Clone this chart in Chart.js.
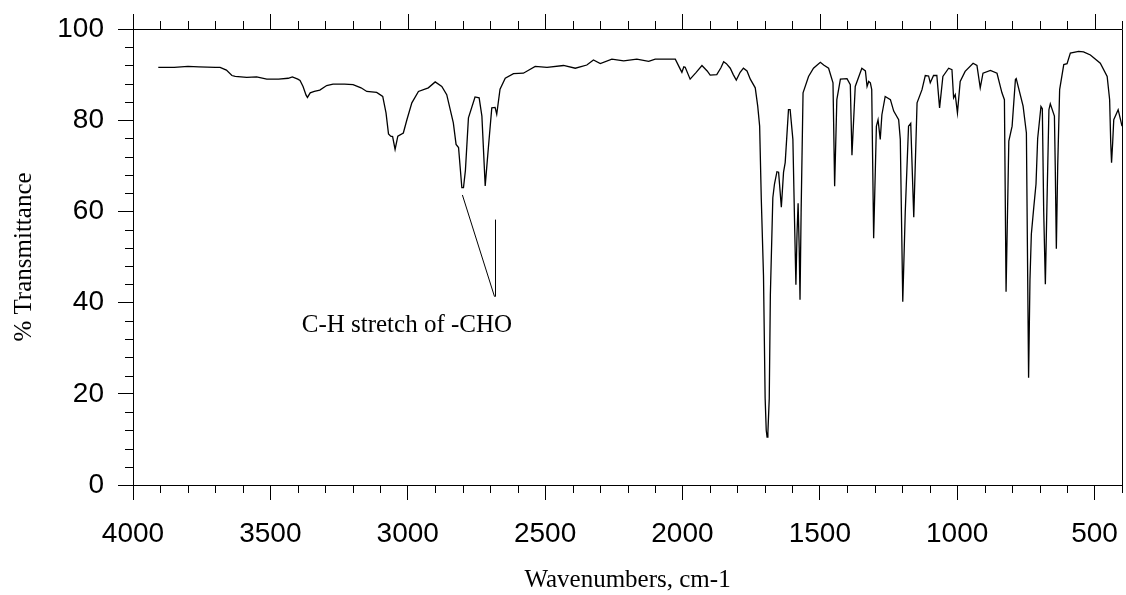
<!DOCTYPE html>
<html>
<head>
  <title>IR spectrum</title>
  <script src="https://cdn.jsdelivr.net/npm/chart.js"></script>
  <style>
    body {
      margin: 0;
      background: #fff;
    }
    .chart-box {
      width: 1126px;
      height: 595px;
    }
  </style>
</head>
<body>

  <div class="chart-box">
    <canvas id="irChart"></canvas>
  </div>

  <script>
    // spectrum (cm-1, % transmittance)
    const wavenumbers = [
      3908, 3850, 3800, 3760, 3700, 3683, 3660, 3640, 3628, 3586, 3550, 3513, 3470, 3435, 3420, 3400,
      3392, 3381, 3370, 3365, 3355, 3340, 3320, 3295, 3272, 3230, 3199, 3170, 3149, 3113, 3091, 3079,
      3070, 3062, 3055, 3046, 3036, 3016, 3003, 2985, 2961, 2925, 2900, 2876, 2858, 2834, 2824, 2815,
      2803, 2797, 2790, 2779, 2755, 2740, 2730, 2718, 2706, 2694, 2682, 2676, 2664, 2645, 2615, 2579,
      2536, 2493, 2433, 2390, 2348, 2324, 2299, 2257, 2214, 2166, 2123, 2099, 2026, 2008, 2002, 1995,
      1990, 1972, 1950, 1929, 1910, 1899, 1875, 1860, 1850, 1840, 1826, 1815, 1804, 1790, 1778, 1765,
      1753, 1735, 1726, 1719, 1713, 1705, 1699, 1695, 1692, 1689, 1684, 1680, 1671, 1665, 1656, 1650,
      1640, 1632, 1626, 1614, 1608, 1598, 1592, 1587, 1583, 1579, 1575, 1572, 1568, 1561, 1541, 1523,
      1498, 1486, 1468, 1452, 1446, 1438, 1425, 1401, 1389, 1383, 1371, 1347, 1334, 1328, 1322, 1316,
      1311, 1304, 1294, 1288, 1280, 1274, 1262, 1243, 1231, 1213, 1207, 1198, 1189, 1177, 1169, 1158,
      1146, 1128, 1116, 1104, 1098, 1086, 1074, 1064, 1052, 1031, 1019, 1013, 1007, 999, 989, 971,
      942, 928, 916, 906, 879, 855, 837, 828, 822, 812, 800, 788, 785, 760, 748, 740,
      735, 730, 721, 713, 707, 695, 690, 685, 679, 672, 666, 661, 646, 643, 639, 634,
      627, 612, 600, 588, 558, 540, 515, 479, 454, 445, 441, 438, 434, 430, 414, 405, 400
    ];
    const transmittance = [
      91.6, 91.6, 91.8, 91.7, 91.6, 91.6, 91.0, 89.8, 89.6, 89.4, 89.5, 89.0, 89.0, 89.2, 89.5, 89.0,
      88.7, 87.4, 85.5, 85.0, 86.0, 86.3, 86.6, 87.6, 87.9, 87.9, 87.8, 87.1, 86.3, 86.1, 85.2, 81.6,
      77.0, 76.5, 76.4, 73.6, 76.5, 77.2, 80.1, 83.8, 86.3, 87.1, 88.4, 87.4, 85.6, 79.4, 74.7, 74.0,
      65.2, 65.2, 69.0, 80.5, 85.1, 84.9, 80.9, 65.6, 74.3, 82.7, 82.8, 81.3, 86.8, 89.2, 90.2, 90.3,
      91.8, 91.6, 92.0, 91.4, 92.1, 93.2, 92.4, 93.4, 93.0, 93.4, 92.9, 93.4, 93.4, 91.2, 90.5, 91.7,
      91.6, 89.0, 90.5, 92.0, 90.8, 89.9, 90.0, 91.5, 92.8, 92.4, 91.4, 90.0, 88.8, 90.5, 91.4, 90.8,
      89.0, 87.1, 83.1, 78.7, 62.7, 46.0, 19.0, 12.0, 10.5, 11.5, 19.0, 41.6, 63.0, 66.0, 68.7, 68.6,
      60.9, 68.6, 70.7, 82.3, 82.3, 75.8, 58.0, 43.9, 55.0, 61.8, 52.0, 40.6, 60.0, 86.0, 89.6, 91.4,
      92.7, 92.1, 91.4, 88.2, 65.5, 84.5, 89.0, 89.1, 87.8, 72.3, 87.4, 91.4, 90.8, 87.4, 88.5, 88.2,
      86.7, 54.1, 78.7, 80.1, 75.8, 81.2, 85.2, 84.5, 82.0, 80.1, 75.8, 40.2, 59.8, 78.7, 79.3, 58.7,
      83.8, 86.7, 89.8, 89.7, 88.2, 89.8, 89.8, 82.7, 89.6, 91.4, 91.1, 84.9, 85.6, 81.6, 88.5, 90.7,
      92.5, 92.0, 87.1, 90.3, 90.9, 90.3, 86.0, 84.5, 42.4, 75.4, 78.7, 88.9, 89.1, 83.1, 77.2, 23.5,
      45.0, 55.0, 61.0, 66.0, 76.0, 83.0, 82.5, 60.0, 44.0, 65.0, 82.3, 83.6, 80.9, 70.0, 51.8, 70.0,
      86.7, 92.2, 92.4, 94.7, 95.1, 95.0, 94.3, 92.5, 89.6, 84.5, 75.0, 70.7, 75.0, 80.1, 82.3, 80.0, 78.7
    ];

    // axis ranges and tick values
    const xRange = [400, 4000];
    const yRange = [0, 100];
    const xTickValues = [4000, 3500, 3000, 2500, 2000, 1500, 1000, 500];
    const yTickValues = [0, 20, 40, 60, 80, 100];
    const xMinorStep = 100;
    const yMinorStep = 4;

    // annotation for the aldehyde C-H peaks
    const noteText = 'C-H stretch of -CHO';
    const notePos = [3003, 33.6];
    const noteDiagonal = [[2801, 63.6], [2684, 41.3]];
    const noteVertical = [[2684, 58.2], [2684, 41.3]];

    const sansFont = "'Liberation Sans', Arial, sans-serif";
    const serifFont = "'Liberation Serif', 'Times New Roman', serif";

    const spectrum = wavenumbers.map((w, i) => ({ x: w, y: transmittance[i] }));

    // frame, minor ticks, top ticks and the annotation
    const extras = {
      id: 'extras',
      afterDraw(chart) {
        const { ctx, chartArea: a, scales: { x, y } } = chart;
        const px = v => Math.round(x.getPixelForValue(v)) + 0.5;
        const py = v => Math.round(y.getPixelForValue(v)) + 0.5;
        ctx.save();
        ctx.strokeStyle = '#000';
        ctx.lineWidth = 1;
        ctx.beginPath();
        ctx.moveTo(a.left, Math.round(a.top) + 0.5);
        ctx.lineTo(Math.round(a.right) + 0.5, Math.round(a.top) + 0.5);
        ctx.lineTo(Math.round(a.right) + 0.5, a.bottom);
        for (let v = xRange[0]; v <= xRange[1]; v += xMinorStep) {
          const major = xTickValues.includes(v);
          ctx.moveTo(px(v), a.top);
          ctx.lineTo(px(v), a.top - (major ? 15 : 8));
          if (!major) {
            ctx.moveTo(px(v), a.bottom);
            ctx.lineTo(px(v), a.bottom + 8);
          }
        }
        for (let v = yRange[0]; v <= yRange[1]; v += yMinorStep) {
          if (yTickValues.includes(v)) continue;
          ctx.moveTo(a.left, py(v));
          ctx.lineTo(a.left - 8, py(v));
        }
        ctx.stroke();

        ctx.beginPath();
        ctx.moveTo(x.getPixelForValue(noteDiagonal[0][0]), y.getPixelForValue(noteDiagonal[0][1]));
        ctx.lineTo(x.getPixelForValue(noteDiagonal[1][0]), y.getPixelForValue(noteDiagonal[1][1]));
        ctx.moveTo(px(noteVertical[0][0]), y.getPixelForValue(noteVertical[0][1]));
        ctx.lineTo(px(noteVertical[1][0]), y.getPixelForValue(noteVertical[1][1]));
        ctx.stroke();

        ctx.fillStyle = '#000';
        ctx.font = '25px ' + serifFont;
        ctx.textAlign = 'center';
        ctx.textBaseline = 'alphabetic';
        ctx.fillText(noteText, x.getPixelForValue(notePos[0]), y.getPixelForValue(notePos[1]));
        ctx.restore();
      }
    };

    new Chart(document.getElementById('irChart'), {
      type: 'scatter',
      data: {
        datasets: [{
          data: spectrum,
          showLine: true,
          borderColor: '#000',
          borderWidth: 1.3,
          pointRadius: 0,
          tension: 0
        }]
      },
      options: {
        responsive: true,
        maintainAspectRatio: false,
        animation: false,
        layout: { padding: { top: 29, right: 4, left: 0, bottom: 0 } },
        plugins: {
          legend: { display: false },
          tooltip: { enabled: false }
        },
        scales: {
          x: {
            type: 'linear',
            reverse: true,
            min: xRange[0],
            max: xRange[1],
            afterBuildTicks: s => { s.ticks = xTickValues.map(v => ({ value: v })); },
            ticks: {
              autoSkip: false,
              maxRotation: 0,
              padding: 17,
              color: '#000',
              font: { family: sansFont, size: 28 },
              callback: v => String(v)
            },
            grid: { drawOnChartArea: false, tickLength: 15, tickColor: '#000', tickWidth: 1 },
            border: { color: '#000', width: 1 },
            title: {
              display: true,
              text: 'Wavenumbers, cm-1',
              color: '#000',
              font: { family: serifFont, size: 25 },
              padding: { top: 0, bottom: 0 }
            },
            afterFit: s => {
              s.height = 110;
              s.paddingLeft = 0;
              s.paddingRight = 0;
            }
          },
          y: {
            min: yRange[0],
            max: yRange[1],
            afterBuildTicks: s => { s.ticks = yTickValues.map(v => ({ value: v })); },
            ticks: {
              padding: 14,
              color: '#000',
              font: { family: sansFont, size: 28 },
              callback: v => String(v)
            },
            grid: { drawOnChartArea: false, tickLength: 15, tickColor: '#000', tickWidth: 1 },
            border: { color: '#000', width: 1 },
            title: {
              display: true,
              text: '% Transmittance',
              color: '#000',
              font: { family: serifFont, size: 25 },
              padding: { top: 9, bottom: 0 }
            },
            afterFit: s => {
              s.width = 133;
              s.paddingTop = 0;
              s.paddingBottom = 0;
            }
          }
        }
      },
      plugins: [extras]
    });
  </script>

</body>
</html>
